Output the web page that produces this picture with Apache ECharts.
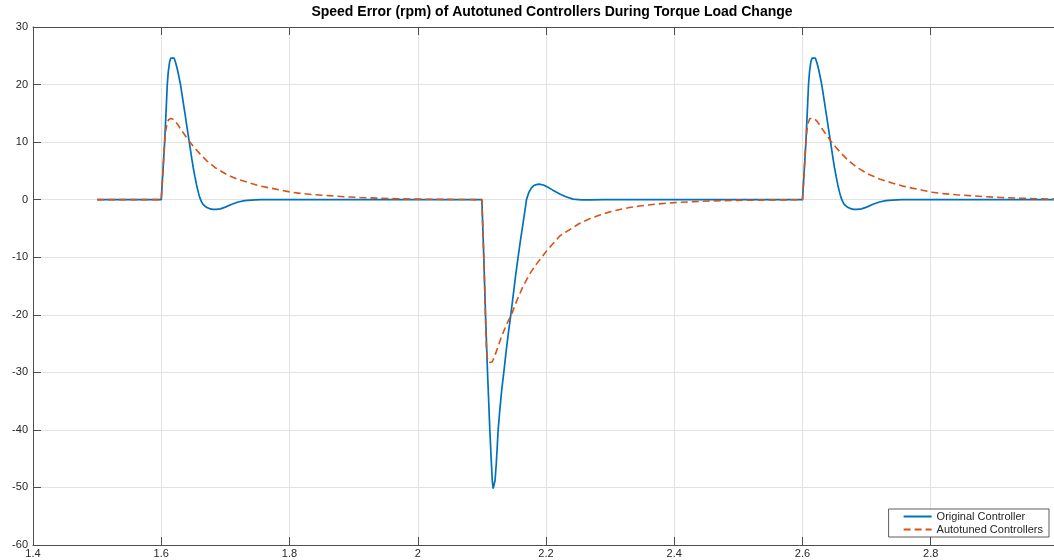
<!DOCTYPE html>
<html>
<head>
<meta charset="utf-8">
<script src="https://cdn.jsdelivr.net/npm/echarts@6/dist/echarts.min.js"></script>
<style>
    html, body { margin: 0; padding: 0; background: #fff; }
    #speedChart { width: 1054px; height: 560px; }
</style>
</head>
<body>
<div id="speedChart"></div>
<script>
// 原始控制器
const timeOriginal = [
    1.5, 1.6, 1.6015, 1.603, 1.6053, 1.6075, 1.6094, 1.611, 1.613, 1.615, 1.6178, 1.620, 1.6225, 1.625, 1.6275,
    1.630, 1.6325, 1.635, 1.6375, 1.640, 1.6425, 1.645, 1.6475, 1.650, 1.6525, 1.655, 1.6575, 1.660, 1.6625,
    1.665, 1.670, 1.675, 1.680, 1.686, 1.692, 1.700, 1.710, 1.720, 1.730, 1.740, 1.755,
    2.1, 2.1015, 2.103, 2.1057, 2.1088, 2.1124, 2.1145, 2.1162, 2.1176, 2.119, 2.1205, 2.1225, 2.1254, 2.128, 2.131,
    2.1342, 2.138, 2.1415, 2.1451, 2.149, 2.1525, 2.1565, 2.160, 2.163, 2.1665, 2.1696, 2.173, 2.177, 2.181, 2.185,
    2.1892, 2.196, 2.203, 2.210, 2.2215, 2.230, 2.242, 2.255, 2.270, 2.290,
    2.6, 2.6015, 2.603, 2.6053, 2.6075, 2.6094, 2.611, 2.613, 2.615, 2.6170, 2.620, 2.6225, 2.625, 2.6275,
    2.630, 2.6325, 2.635, 2.6375, 2.640, 2.6425, 2.645, 2.6475, 2.650, 2.6525, 2.655, 2.6575, 2.660, 2.6625,
    2.665, 2.670, 2.675, 2.680, 2.685, 2.692, 2.700, 2.710, 2.720, 2.730, 2.740, 2.755, 3.0
];
const speedOriginal = [
    0, 0, 2.8, 5.7, 10, 15.3, 20, 22.3, 23.9, 24.6, 24.9, 24.6, 23.8, 22.7, 21.4,
    20.0, 18.2, 16.4, 14.6, 12.7, 10.9, 9.1, 7.2, 5.5, 4.0, 2.6, 1.4, 0.4, -0.3,
    -0.8, -1.3, -1.55, -1.68, -1.7, -1.6, -1.3, -0.8, -0.4, -0.18, -0.07, 0,
    0, -5, -10, -20, -30, -40, -45, -48.8, -50.2, -50.1, -48.8, -45.8, -40, -36.5, -33,
    -30, -26.2, -23, -20, -16.5, -13.3, -10, -7.2, -5, -2.4, 0, 1.2, 2.0, 2.45, 2.62,
    2.7, 2.55, 2.15, 1.7, 1.0, 0.55, 0.1, -0.05, -0.05, 0,
    0, 2.8, 5.7, 10, 15.3, 20, 22.3, 23.9, 24.6, 24.9, 24.6, 23.8, 22.7, 21.4,
    20.0, 18.2, 16.4, 14.6, 12.7, 10.9, 9.1, 7.2, 5.5, 4.0, 2.6, 1.4, 0.4, -0.3,
    -0.8, -1.3, -1.55, -1.68, -1.7, -1.6, -1.3, -0.8, -0.4, -0.18, -0.07, 0, 0
];

// 自整定控制器
const timeAutotuned = [
    1.5, 1.6, 1.6027, 1.6053, 1.607, 1.609, 1.6115, 1.6147, 1.618, 1.622, 1.626, 1.630, 1.637, 1.644, 1.652,
    1.660, 1.6715, 1.685, 1.703, 1.720, 1.7396, 1.755, 1.771, 1.787, 1.8025, 1.820, 1.840, 1.860, 1.886,
    1.910, 1.940, 1.970, 2.000, 2.040, 2.080,
    2.1, 2.1015, 2.103, 2.1045, 2.106, 2.107, 2.1085, 2.111, 2.1135, 2.116, 2.120, 2.125, 2.130, 2.135, 2.140,
    2.146, 2.155, 2.164, 2.174, 2.185, 2.2017, 2.2215, 2.237, 2.2527, 2.268, 2.284, 2.2995, 2.315, 2.330,
    2.346, 2.370, 2.400, 2.430, 2.460, 2.500, 2.550,
    2.6, 2.6027, 2.6053, 2.607, 2.609, 2.6115, 2.6140, 2.618, 2.622, 2.626, 2.630, 2.637, 2.644, 2.652,
    2.660, 2.6715, 2.685, 2.703, 2.720, 2.7396, 2.755, 2.771, 2.787, 2.8025, 2.820, 2.840, 2.860, 2.886,
    2.910, 2.940, 2.970, 3.0
];
const speedAutotuned = [
    0, 0, 5, 10, 12, 13.2, 13.9, 14.1, 14.0, 13.6, 13.0, 12.3, 11.2, 10.1, 9.0,
    8.0, 6.7, 5.5, 4.3, 3.5, 2.85, 2.35, 2.0, 1.65, 1.3, 1.05, 0.85, 0.7, 0.5,
    0.38, 0.25, 0.15, 0.1, 0.05, 0.02,
    0, -5, -10, -16, -22, -25.5, -27.5, -28.3, -28.5, -28.2, -27.2, -25.6, -24.0, -22.6, -21.3,
    -20.0, -17.4, -15.1, -13.0, -11.2, -8.8, -6.3, -5.2, -4.1, -3.3, -2.66, -2.12, -1.7, -1.37,
    -1.1, -0.78, -0.52, -0.34, -0.22, -0.12, -0.06,
    0, 5, 10, 12.1, 13.4, 14.1, 14.3, 14.1, 13.7, 13.1, 12.4, 11.3, 10.2, 9.1,
    8.1, 6.8, 5.6, 4.4, 3.6, 2.9, 2.4, 2.0, 1.65, 1.3, 1.05, 0.85, 0.7, 0.5,
    0.38, 0.25, 0.15, 0.1
];

const seriesNames = ['Original Controller', 'Autotuned Controllers'];

const axisColor = '#4d4d4d';
const labelColor = '#262626';
const gridColor = '#e2e2e2';
const font = '"Liberation Sans", Arial, sans-serif';

var myChart = echarts.init(document.getElementById('speedChart'));

var options = {
    animation: false,
    title: {
        text: 'Speed Error (rpm) of Autotuned Controllers During Torque Load Change',
        left: 547,
        top: 0,
        textAlign: 'center',
        textStyle: {
            color: '#000',
            fontSize: 14,
            fontWeight: 'bold',
            fontFamily: font
        }
    },
    legend: {
        orient: 'vertical',
        right: 5,
        bottom: 23,
        align: 'left',
        itemWidth: 28,
        itemHeight: 12,
        itemGap: 2,
        padding: [2, 6, 2, 14],
        backgroundColor: '#fff',
        borderColor: '#333',
        borderWidth: 0.8,
        borderRadius: 0,
        itemStyle: { opacity: 0 },
        textStyle: {
            color: labelColor,
            fontSize: 11,
            fontFamily: font
        },
        data: seriesNames
    },
    grid: {
        left: 33,
        right: -5,
        top: 27,
        bottom: 15,
        outerBoundsMode: 'none'
    },
    xAxis: [
        {
            type: 'value',
            min: 1.4,
            max: 3.0,
            interval: 0.2,
            axisLine: { show: true, onZero: false, lineStyle: { color: axisColor, width: 1 } },
            axisTick: { show: true, inside: true, length: 8, lineStyle: { color: axisColor } },
            axisLabel: { color: labelColor, fontSize: 11, margin: 3, fontFamily: font },
            splitLine: { show: true, lineStyle: { color: gridColor, width: 1 } }
        },
        {
            type: 'value',
            position: 'top',
            min: 1.4,
            max: 3.0,
            interval: 0.2,
            axisLine: { show: true, onZero: false, lineStyle: { color: axisColor, width: 1 } },
            axisTick: { show: true, inside: true, length: 8, lineStyle: { color: axisColor } },
            axisLabel: { show: false },
            splitLine: { show: false }
        }
    ],
    yAxis: {
        type: 'value',
        min: -60,
        max: 30,
        interval: 10,
        axisLine: { show: true, onZero: false, lineStyle: { color: axisColor, width: 1 } },
        axisTick: { show: true, inside: true, length: 8, lineStyle: { color: axisColor } },
        axisLabel: { color: labelColor, fontSize: 11, margin: 5, fontFamily: font },
        splitLine: { show: true, lineStyle: { color: gridColor, width: 1 } }
    },
    series: [
        {
            name: seriesNames[0],
            type: 'line',
            xAxisIndex: 0,
            symbol: 'none',
            z: 3,
            lineStyle: { color: '#0072BD', width: 1.7 },
            itemStyle: { color: '#0072BD' },
            data: timeOriginal.map((t, i) => [t, speedOriginal[i]])
        },
        {
            name: seriesNames[1],
            type: 'line',
            xAxisIndex: 0,
            symbol: 'none',
            z: 4,
            lineStyle: { color: '#D95319', width: 1.6, type: [7, 4] },
            itemStyle: { color: '#D95319' },
            data: timeAutotuned.map((t, i) => [t, speedAutotuned[i]])
        }
    ]
};

// 绘制图表
myChart.setOption(options);
</script>
</body>
</html>
